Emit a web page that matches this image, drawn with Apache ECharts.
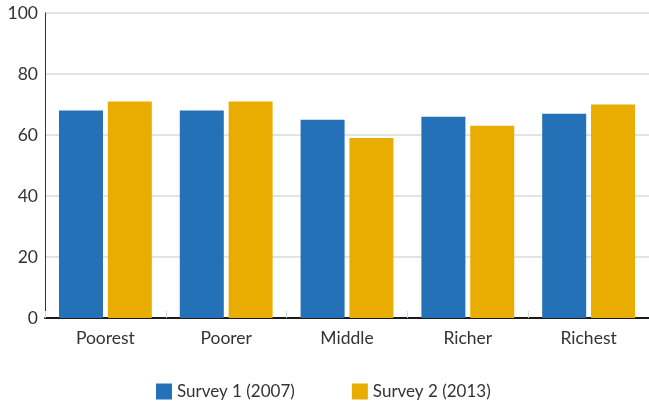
<!DOCTYPE html>
<html><head><meta charset="utf-8">
<script src="https://cdn.jsdelivr.net/npm/echarts@6/dist/echarts.min.js"></script>
<style>html,body{margin:0;padding:0;background:#fff}#c{width:649px;height:403px}</style>
</head><body><div id="c"></div>
<script>
var categories = ['Poorest', 'Poorer', 'Middle', 'Richer', 'Richest'];
var survey1 = [68, 68, 65, 66, 67];
var survey2 = [71, 71, 59, 63, 70];
var seriesNames = ['Survey 1 (2007)', 'Survey 2 (2013)'];
var yTicks = [0, 20, 40, 60, 80, 100];

var FONT = '"Source Sans Pro", Lato, "Noto Sans", sans-serif';
var chart = echarts.init(document.getElementById('c'), null, {renderer: 'canvas'});
chart.setOption({
  animation: false,
  textStyle: {fontFamily: FONT},
  grid: {left: 45, right: 0, top: 13, bottom: 85, containLabel: false},
  legend: {
    top: 383, left: 156, padding: 0,
    itemWidth: 16, itemHeight: 16, itemGap: 57,
    icon: 'rect',
    textStyle: {fontFamily: FONT, fontSize: 17, color: '#333'},
    data: seriesNames
  },
  xAxis: {
    type: 'category', data: categories,
    axisLine: {lineStyle: {color: '#1a1a1a', width: 2}},
    axisTick: {show: true, inside: true, length: 7, lineStyle: {color: '#d9d9d9', width: 1}},
    axisLabel: {fontFamily: FONT, fontSize: 17.5, color: '#333', margin: 11}
  },
  yAxis: {
    type: 'value', min: yTicks[0], max: yTicks[yTicks.length - 1], interval: 20,
    axisLine: {show: true, lineStyle: {color: '#333', width: 1}},
    axisTick: {show: false},
    axisLabel: {fontFamily: FONT, fontSize: 17.5, color: '#333', margin: 7},
    splitLine: {lineStyle: {color: '#e3e3e3', width: 2}}
  },
  series: [
    {name: seriesNames[0], type: 'bar', data: survey1, barWidth: 44, barGap: '11%',
     itemStyle: {color: '#2471b8'}},
    {name: seriesNames[1], type: 'bar', data: survey2, barWidth: 44, barGap: '11%',
     itemStyle: {color: '#e9ac00'}}
  ]
});
</script></body></html>
